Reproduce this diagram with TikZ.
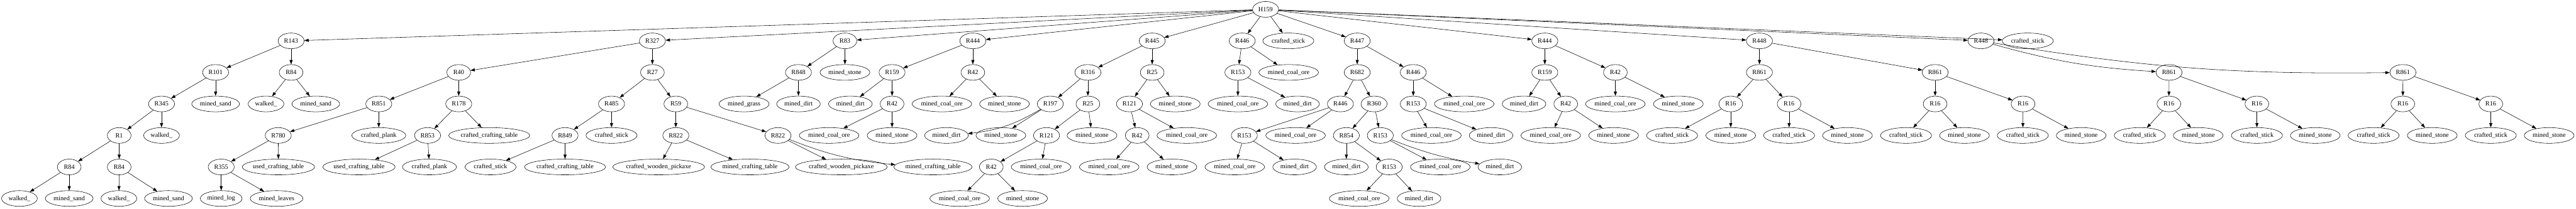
\documentclass[tikz,border=0pt]{standalone}
\usepackage{fontspec}
\setmainfont{Liberation Serif}
\usetikzlibrary{arrows.meta, shapes.geometric}

\tikzset{
  gv/.style={draw, ellipse, line width=0.8pt, inner sep=0pt, minimum height=36pt,
    font=\fontsize{14.8pt}{17pt}\selectfont},
  rnode/.style={gv, minimum width=59.6pt},
  rshort/.style={gv, minimum width=54.3pt},
  leafwalk/.style={gv, minimum width=81.9pt},
  leafsand/.style={gv, minimum width=109.4pt},
  leafstone/.style={gv, minimum width=114pt},
  leafstick/.style={gv, minimum width=117pt},
  leafcoal/.style={gv, minimum width=136.6pt},
  leafdirt/.style={gv, minimum width=100pt},
  leafgrass/.style={gv, minimum width=114.7pt},
  leafuct/.style={gv, minimum width=165.7pt},
  leafcct/.style={gv, minimum width=185.7pt},
  leafplank/.style={gv, minimum width=123.8pt},
  leafcwp/.style={gv, minimum width=205pt},
  leafmct/.style={gv, minimum width=176.6pt},
  leaflog/.style={gv, minimum width=95.8pt},
  leafleaves/.style={gv, minimum width=120.8pt},
  gvedge/.style={line width=0.8pt, -{Triangle[length=10pt,width=7pt]}}
}

\begin{document}
\begin{tikzpicture}[x=0.7547pt, y=72.3pt]
  \useasboundingbox (0,0.2975) rectangle (7814,-6.331);

  % nodes, rank 0 and 1
  \node[rnode] (h159) at (3839,0) {H159};
  \node[rnode] (r143) at (883,-1) {R143};
  \node[rnode] (r327) at (1979,-1) {R327};
  \node[rshort] (r83) at (2563,-1) {R83};
  \node[rnode] (r444a) at (2951,-1) {R444};
  \node[rnode] (r445) at (3495,-1) {R445};
  \node[rnode] (r446a) at (3768,-1) {R446};
  \node[leafstick] (stk1) at (3908,-1) {crafted\_stick};
  \node[rnode] (r447) at (4117,-1) {R447};
  \node[rnode] (r444b) at (4686,-1) {R444};
  \node[rnode] (r448a) at (5337,-1) {R448};
  \node[rnode] (r448b) at (6009,-1) {R448};
  \node[leafstick] (stk2) at (6151,-1) {crafted\_stick};

  % rank 2
  \node[rnode] (r101) at (654,-2) {R101};
  \node[rshort] (r84a) at (883,-2) {R84};
  \node[rshort] (r40) at (1391.5,-2) {R40};
  \node[rshort] (r27) at (1979,-2) {R27};
  \node[rnode] (r848) at (2422,-2) {R848};
  \node[leafstone] (stn1) at (2563,-2) {mined\_stone};
  \node[rnode] (r159a) at (2706,-2) {R159};
  \node[rshort] (r42a) at (2951,-2) {R42};
  \node[rnode] (r316) at (3300,-2) {R316};
  \node[rshort] (r25a) at (3495,-2) {R25};
  \node[rnode] (r153a) at (3755,-2) {R153};
  \node[leafcoal] (coal1) at (3909,-2) {mined\_coal\_ore};
  \node[rnode] (r682) at (4117,-2) {R682};
  \node[rnode] (r446b) at (4287,-2) {R446};
  \node[rnode] (r159b) at (4686,-2) {R159};
  \node[rshort] (r42b) at (4900,-2) {R42};
  \node[rnode] (r861a) at (5337,-2) {R861};
  \node[rnode] (r861b) at (5870,-2) {R861};
  \node[rnode] (r861c) at (6579.5,-2) {R861};
  \node[rnode] (r861d) at (7289,-2) {R861};

  % rank 3
  \node[rnode] (r345) at (490,-3) {R345};
  \node[leafsand] (snd1) at (654,-3) {mined\_sand};
  \node[leafwalk] (wlk1) at (807,-3) {walked\_};
  \node[leafsand] (snd2) at (958,-3) {mined\_sand};
  \node[rnode] (r851) at (1149,-3) {R851};
  \node[rnode] (r178) at (1391.5,-3) {R178};
  \node[rnode] (r485) at (1855,-3) {R485};
  \node[rshort] (r59) at (2050,-3) {R59};
  \node[leafgrass] (grs1) at (2257,-3) {mined\_grass};
  \node[leafdirt] (drt1) at (2422,-3) {mined\_dirt};
  \node[leafdirt] (drt2) at (2579.5,-3) {mined\_dirt};
  \node[rshort] (r42c) at (2706,-3) {R42};
  \node[leafcoal] (coal2) at (2857,-3) {mined\_coal\_ore};
  \node[leafstone] (stn2) at (3047,-3) {mined\_stone};
  \node[rnode] (r197) at (3186,-3) {R197};
  \node[rshort] (r25b) at (3300,-3) {R25};
  \node[rnode] (r121a) at (3426,-3) {R121};
  \node[leafstone] (stn3) at (3565,-3) {mined\_stone};
  \node[leafcoal] (coal3) at (3755,-3) {mined\_coal\_ore};
  \node[leafdirt] (drt3) at (3936,-3) {mined\_dirt};
  \node[rnode] (r446c) at (4066,-3) {R446};
  \node[rnode] (r360) at (4168,-3) {R360};
  \node[rnode] (r153b) at (4287,-3) {R153};
  \node[leafcoal] (coal4) at (4441.5,-3) {mined\_coal\_ore};
  \node[leafdirt] (drt4) at (4623,-3) {mined\_dirt};
  \node[rshort] (r42d) at (4749.5,-3) {R42};
  \node[leafcoal] (coal5) at (4900,-3) {mined\_coal\_ore};
  \node[leafstone] (stn4) at (5091,-3) {mined\_stone};
  \node[rshort] (r16a) at (5250,-3) {R16};
  \node[rshort] (r16b) at (5427,-3) {R16};
  \node[rshort] (r16c) at (5870,-3) {R16};
  \node[rshort] (r16d) at (6136.6,-3) {R16};
  \node[rshort] (r16e) at (6579,-3) {R16};
  \node[rshort] (r16f) at (6846,-3) {R16};
  \node[rshort] (r16g) at (7288.6,-3) {R16};
  \node[rshort] (r16h) at (7555.5,-3) {R16};

  % rank 4
  \node[rshort] (r1) at (361.6,-4) {R1};
  \node[leafwalk] (wlk2) at (490,-4) {walked\_};
  \node[rnode] (r780) at (844,-4) {R780};
  \node[leafplank] (plk1) at (1149,-4) {crafted\_plank};
  \node[rnode] (r853) at (1297,-4) {R853};
  \node[leafcct] (cct1) at (1484,-4) {crafted\_crafting\_table};
  \node[rnode] (r849) at (1714,-4) {R849};
  \node[leafstick] (stk3) at (1855,-4) {crafted\_stick};
  \node[rnode] (r822a) at (2050,-4) {R822};
  \node[rnode] (r822b) at (2360,-4) {R822};
  \node[leafcoal] (coal6) at (2515,-4) {mined\_coal\_ore};
  \node[leafstone] (stn5) at (2706,-4) {mined\_stone};
  \node[leafdirt] (drt5) at (2871,-4) {mined\_dirt};
  \node[leafstone] (stn6) at (3036,-4) {mined\_stone};
  \node[rnode] (r121b) at (3174.5,-4) {R121};
  \node[leafstone] (stn7) at (3312.5,-4) {mined\_stone};
  \node[rshort] (r42e) at (3449.5,-4) {R42};
  \node[leafcoal] (coal7) at (3600,-4) {mined\_coal\_ore};
  \node[rnode] (r153c) at (3774.5,-4) {R153};
  \node[leafcoal] (coal8) at (3930,-4) {mined\_coal\_ore};
  \node[rnode] (r854) at (4084,-4) {R854};
  \node[rnode] (r153d) at (4187,-4) {R153};
  \node[leafcoal] (coal9) at (4342,-4) {mined\_coal\_ore};
  \node[leafdirt] (drt6) at (4523,-4) {mined\_dirt};
  \node[leafcoal] (coal10) at (4704,-4) {mined\_coal\_ore};
  \node[leafstone] (stn8) at (4894.6,-4) {mined\_stone};
  \node[leafstick] (stk4) at (5072,-4) {crafted\_stick};
  \node[leafstone] (stn9) at (5250,-4) {mined\_stone};
  \node[leafstick] (stk5) at (5427,-4) {crafted\_stick};
  \node[leafstone] (stn10) at (5604,-4) {mined\_stone};
  \node[leafstick] (stk6) at (5781.7,-4) {crafted\_stick};
  \node[leafstone] (stn11) at (5959,-4) {mined\_stone};
  \node[leafstick] (stk7) at (6136,-4) {crafted\_stick};
  \node[leafstone] (stn12) at (6313,-4) {mined\_stone};
  \node[leafstick] (stk8) at (6490.6,-4) {crafted\_stick};
  \node[leafstone] (stn13) at (6668,-4) {mined\_stone};
  \node[leafstick] (stk9) at (6846,-4) {crafted\_stick};
  \node[leafstone] (stn14) at (7023,-4) {mined\_stone};
  \node[leafstick] (stk10) at (7200,-4) {crafted\_stick};
  \node[leafstone] (stn15) at (7378,-4) {mined\_stone};
  \node[leafstick] (stk11) at (7555.5,-4) {crafted\_stick};
  \node[leafstone] (stn16) at (7732.6,-4) {mined\_stone};

  % rank 5
  \node[rshort] (r84b) at (210,-5) {R84};
  \node[rshort] (r84c) at (361.6,-5) {R84};
  \node[rnode] (r355) at (671,-5) {R355};
  \node[leafuct] (uct1) at (844.6,-5) {used\_crafting\_table};
  \node[leafuct] (uct2) at (1089,-5) {used\_crafting\_table};
  \node[leafplank] (plk2) at (1302.7,-5) {crafted\_plank};
  \node[leafstick] (stk12) at (1488,-5) {crafted\_stick};
  \node[leafcct] (cct2) at (1714,-5) {crafted\_crafting\_table};
  \node[leafcwp] (cwp1) at (1998,-5) {crafted\_wooden\_pickaxe};
  \node[leafmct] (mct1) at (2275,-5) {mined\_crafting\_table};
  \node[leafcwp] (cwp2) at (2552,-5) {crafted\_wooden\_pickaxe};
  \node[leafmct] (mct2) at (2830,-5) {mined\_crafting\_table};
  \node[rshort] (r42f) at (3007,-5) {R42};
  \node[leafcoal] (coal11) at (3158,-5) {mined\_coal\_ore};
  \node[leafcoal] (coal12) at (3364.7,-5) {mined\_coal\_ore};
  \node[leafstone] (stn17) at (3555,-5) {mined\_stone};
  \node[leafcoal] (coal13) at (3745.5,-5) {mined\_coal\_ore};
  \node[leafdirt] (drt7) at (3927,-5) {mined\_dirt};
  \node[leafdirt] (drt8) at (4084,-5) {mined\_dirt};
  \node[rnode] (r153e) at (4214,-5) {R153};
  \node[leafcoal] (coal14) at (4369,-5) {mined\_coal\_ore};
  \node[leafdirt] (drt9) at (4549.5,-5) {mined\_dirt};

  % rank 6
  \node[leafwalk] (wlk3) at (59,-6) {walked\_};
  \node[leafsand] (snd3) at (210,-6) {mined\_sand};
  \node[leafwalk] (wlk4) at (360.7,-6) {walked\_};
  \node[leafsand] (snd4) at (511,-6) {mined\_sand};
  \node[leaflog] (log1) at (671,-6) {mined\_log};
  \node[leafleaves] (lvs1) at (839,-6) {mined\_leaves};
  \node[leafcoal] (coal15) at (2911,-6) {mined\_coal\_ore};
  \node[leafstone] (stn18) at (3102,-6) {mined\_stone};
  \node[leafcoal] (coal16) at (4123,-6) {mined\_coal\_ore};
  \node[leafdirt] (drt10) at (4304.5,-6) {mined\_dirt};

  % edges
  \draw[gvedge] (h159) edge (r143) edge (r327) edge (r83) edge (r444a)
    edge (r445) edge (r446a) edge (stk1) edge (r447) edge (r444b)
    edge (r448a) edge (r448b) edge (stk2);
  \draw[gvedge] (r143) edge (r101) edge (r84a);
  \draw[gvedge] (r327) edge (r40) edge (r27);
  \draw[gvedge] (r83) edge (r848) edge (stn1);
  \draw[gvedge] (r444a) edge (r159a) edge (r42a);
  \draw[gvedge] (r445) edge (r316) edge (r25a);
  \draw[gvedge] (r446a) edge (r153a) edge (coal1);
  \draw[gvedge] (r447) edge (r682) edge (r446b);
  \draw[gvedge] (r444b) edge (r159b) edge (r42b);
  \draw[gvedge] (r448a) edge (r861a) edge (r861b);
  \draw[gvedge] (r448b) edge[bend right=6] (r861c) edge[bend right=5] (r861d);

  \draw[gvedge] (r101) edge (r345) edge (snd1);
  \draw[gvedge] (r84a) edge (wlk1) edge (snd2);
  \draw[gvedge] (r40) edge (r851) edge (r178);
  \draw[gvedge] (r27) edge (r485) edge (r59);
  \draw[gvedge] (r848) edge (grs1) edge (drt1);
  \draw[gvedge] (r159a) edge (drt2) edge (r42c);
  \draw[gvedge] (r42a) edge (coal2) edge (stn2);
  \draw[gvedge] (r316) edge (r197) edge (r25b);
  \draw[gvedge] (r25a) edge (r121a) edge (stn3);
  \draw[gvedge] (r153a) edge (coal3) edge (drt3);
  \draw[gvedge] (r682) edge (r446c) edge (r360);
  \draw[gvedge] (r446b) edge (r153b) edge (coal4);
  \draw[gvedge] (r159b) edge (drt4) edge (r42d);
  \draw[gvedge] (r42b) edge (coal5) edge (stn4);
  \draw[gvedge] (r861a) edge (r16a) edge (r16b);
  \draw[gvedge] (r861b) edge (r16c) edge (r16d);
  \draw[gvedge] (r861c) edge (r16e) edge (r16f);
  \draw[gvedge] (r861d) edge (r16g) edge (r16h);

  \draw[gvedge] (r345) edge (r1) edge (wlk2);
  \draw[gvedge] (r851) edge (r780) edge (plk1);
  \draw[gvedge] (r178) edge (r853) edge (cct1);
  \draw[gvedge] (r485) edge (r849) edge (stk3);
  \draw[gvedge] (r59) edge (r822a) edge (r822b);
  \draw[gvedge] (r42c) edge (coal6) edge (stn5);
  \draw[gvedge] (r197) edge[bend left=12] (drt5) edge (stn6);
  \draw[gvedge] (r25b) edge (r121b) edge (stn7);
  \draw[gvedge] (r121a) edge (r42e) edge (coal7);
  \draw[gvedge] (r446c) edge (r153c) edge (coal8);
  \draw[gvedge] (r360) edge (r854) edge (r153d);
  \draw[gvedge] (r153b) edge (coal9) edge (drt6);
  \draw[gvedge] (r42d) edge (coal10) edge (stn8);
  \draw[gvedge] (r16a) edge (stk4) edge (stn9);
  \draw[gvedge] (r16b) edge (stk5) edge (stn10);
  \draw[gvedge] (r16c) edge (stk6) edge (stn11);
  \draw[gvedge] (r16d) edge (stk7) edge (stn12);
  \draw[gvedge] (r16e) edge (stk8) edge (stn13);
  \draw[gvedge] (r16f) edge (stk9) edge (stn14);
  \draw[gvedge] (r16g) edge (stk10) edge (stn15);
  \draw[gvedge] (r16h) edge (stk11) edge (stn16);

  \draw[gvedge] (r1) edge (r84b) edge (r84c);
  \draw[gvedge] (r780) edge (r355) edge (uct1);
  \draw[gvedge] (r853) edge (uct2) edge (plk2);
  \draw[gvedge] (r849) edge (stk12) edge (cct2);
  \draw[gvedge] (r822a) edge (cwp1) edge (mct1);
  \draw[gvedge] (r822b) edge (cwp2) edge[bend right=8] (mct2);
  \draw[gvedge] (r121b) edge (r42f) edge (coal11);
  \draw[gvedge] (r42e) edge (coal12) edge (stn17);
  \draw[gvedge] (r153c) edge (coal13) edge (drt7);
  \draw[gvedge] (r854) edge (drt8) edge (r153e);
  \draw[gvedge] (r153d) edge (coal14) edge[bend right=6] (drt9);

  \draw[gvedge] (r84b) edge (wlk3) edge (snd3);
  \draw[gvedge] (r84c) edge (wlk4) edge (snd4);
  \draw[gvedge] (r355) edge (log1) edge (lvs1);
  \draw[gvedge] (r42f) edge (coal15) edge (stn18);
  \draw[gvedge] (r153e) edge (coal16) edge (drt10);
\end{tikzpicture}
\end{document}
